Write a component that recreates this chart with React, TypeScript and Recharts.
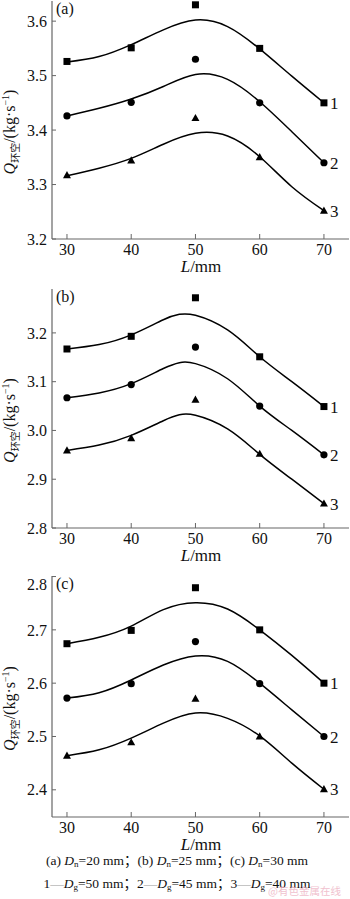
import React from "react";
import { ComposedChart, Line, Scatter, XAxis, YAxis, ReferenceDot } from "recharts";

const SERIF = "'Liberation Serif', 'Times New Roman', serif";
const CJK = "'Noto Sans CJK SC', sans-serif";
const AXIS = "#666";

// shared x values (L, mm)
const xTicks = [30, 40, 50, 60, 70];
const L = [30, 40, 50, 60, 70];
const fitL = [30, 35, 40, 45, 50, 55, 60, 65, 70];
const fitLB = [30, 35, 40, 45, 47.5, 50, 55, 60, 65, 70];
const curveNames = ["1", "2", "3"];

// (a) Dn = 20 mm
const aMeas1 = [3.526, 3.551, 3.63, 3.55, 3.45];
const aMeas2 = [3.426, 3.451, 3.53, 3.45, 3.34];
const aMeas3 = [3.317, 3.344, 3.422, 3.35, 3.252];
const aFit1 = [3.525, 3.535, 3.557, 3.584, 3.602, 3.59, 3.549, 3.499, 3.45];
const aFit2 = [3.426, 3.44, 3.457, 3.48, 3.502, 3.493, 3.452, 3.397, 3.34];
const aFit3 = [3.316, 3.33, 3.348, 3.374, 3.394, 3.389, 3.351, 3.296, 3.252];
const aTicks = [3.2, 3.3, 3.4, 3.5, 3.6];

// (b) Dn = 25 mm
const bMeas1 = [3.167, 3.193, 3.272, 3.151, 3.049];
const bMeas2 = [3.067, 3.094, 3.171, 3.05, 2.95];
const bMeas3 = [2.959, 2.984, 3.063, 2.952, 2.85];
const bFit1 = [3.167, 3.176, 3.196, 3.227, 3.238, 3.236, 3.206, 3.151, 3.1, 3.049];
const bFit2 = [3.067, 3.077, 3.096, 3.127, 3.139, 3.137, 3.106, 3.05, 3.0, 2.95];
const bFit3 = [2.959, 2.97, 2.99, 3.02, 3.032, 3.031, 3.003, 2.951, 2.9, 2.85];
const bTicks = [2.8, 2.9, 3.0, 3.1, 3.2];

// (c) Dn = 30 mm
const cMeas1 = [2.674, 2.699, 2.779, 2.7, 2.6];
const cMeas2 = [2.572, 2.599, 2.678, 2.599, 2.5];
const cMeas3 = [2.464, 2.489, 2.571, 2.5, 2.401];
const cFit1 = [2.674, 2.686, 2.707, 2.738, 2.751, 2.739, 2.7, 2.652, 2.6];
const cFit2 = [2.572, 2.582, 2.606, 2.634, 2.651, 2.641, 2.6, 2.55, 2.5];
const cFit3 = [2.464, 2.475, 2.497, 2.525, 2.544, 2.534, 2.501, 2.45, 2.401];
const cTicks = [2.4, 2.5, 2.6, 2.7, 2.8];

const xDomain: [number, number] = [27.67, 73.9];

const Square = (p: any) => (
  <rect x={p.cx - 3.5} y={p.cy - 3.5} width={7} height={7} fill="#000" />
);
const Dot = (p: any) => <circle cx={p.cx} cy={p.cy} r={3.6} fill="#000" />;
const Tri = (p: any) => (
  <path d={`M${p.cx},${p.cy - 4.2}L${p.cx + 4},${p.cy + 3}L${p.cx - 4},${p.cy + 3}Z`} fill="#000" />
);
const shapes = [Square, Dot, Tri];

type PanelProps = {
  tag: string;
  plotTop: number;
  plotH: number;
  yDomain: [number, number];
  yTicks: number[];
  fitX: number[];
  fits: number[][];
  meas: number[][];
};

function Panel({ tag, plotTop, plotH, yDomain, yTicks, fitX, fits, meas }: PanelProps) {
  const mt = 1;
  const xh = 42;
  const plotBottom = mt + plotH;
  return (
    <div style={{ position: "absolute", left: 0, top: plotTop - mt }}>
      <ComposedChart width={350} height={plotBottom + xh} margin={{ top: mt, right: 1, bottom: 0, left: 0 }}>
        <XAxis
          type="number"
          dataKey="x"
          domain={xDomain}
          ticks={xTicks}
          allowDataOverflow
          height={xh}
          tickSize={-5}
          tickMargin={10}
          axisLine={{ stroke: AXIS, strokeWidth: 1.2 }}
          tickLine={{ stroke: AXIS }}
          tick={{ fill: "#111", fontSize: 16, fontFamily: SERIF }}
          label={{
            content: () => (
              <text x={201} y={plotBottom + 33} textAnchor="middle" fontSize={17} fontFamily={SERIF} fill="#111">
                <tspan fontStyle="italic">L</tspan>/mm
              </text>
            ),
          }}
        />
        <XAxis
          xAxisId="top"
          orientation="top"
          type="number"
          dataKey="x"
          domain={xDomain}
          allowDataOverflow
          height={0}
          tick={false}
          tickLine={false}
          axisLine={{ stroke: AXIS, strokeWidth: 1.2 }}
        />
        <YAxis
          type="number"
          dataKey="y"
          domain={yDomain}
          ticks={yTicks}
          allowDataOverflow
          width={52}
          tickSize={-4}
          tickMargin={9}
          tickFormatter={(v: number) => v.toFixed(1)}
          axisLine={{ stroke: AXIS, strokeWidth: 1.2 }}
          tickLine={{ stroke: AXIS }}
          tick={{ fill: "#111", fontSize: 16, fontFamily: SERIF }}
          label={{
            content: () => (
              <g>
                <text x={56} y={mt + 13} fontSize={16} fontFamily={SERIF} fill="#111">
                  {tag}
                </text>
                <text
                  transform={`translate(15, ${mt + plotH / 2 + 12}) rotate(-90)`}
                  textAnchor="middle"
                  fontSize={16}
                  fontFamily={SERIF}
                  fill="#111"
                >
                  <tspan fontStyle="italic">Q</tspan>
                  <tspan fontSize={10} fontFamily={CJK} dy={4}>环空</tspan>
                  <tspan dy={-4}>/(kg·s</tspan>
                  <tspan fontSize={10} dy={-6}>−1</tspan>
                  <tspan dy={6}>)</tspan>
                </text>
              </g>
            ),
          }}
        />
        <YAxis
          yAxisId="r"
          orientation="right"
          type="number"
          domain={yDomain}
          allowDataOverflow
          width={0}
          tick={false}
          tickLine={false}
          axisLine={{ stroke: AXIS, strokeWidth: 1.2 }}
        />
        {fits.map((f, k) => (
          <Line
            key={"f" + k}
            data={fitX.map((x, i) => ({ x, y: f[i] }))}
            dataKey="y"
            type="natural"
            stroke="#000"
            strokeWidth={1.5}
            dot={false}
            activeDot={false}
            isAnimationActive={false}
          />
        ))}
        {meas.map((m, k) => (
          <Scatter
            key={"m" + k}
            data={L.map((x, i) => ({ x, y: m[i] }))}
            dataKey="y"
            shape={shapes[k]}
            isAnimationActive={false}
          />
        ))}
        {meas.map((m, k) => (
          <ReferenceDot
            key={"l" + k}
            x={L[L.length - 1]}
            y={m[m.length - 1]}
            r={0}
            ifOverflow="visible"
            label={{ value: curveNames[k], position: "right", offset: 6, fill: "#111", fontSize: 17, fontFamily: SERIF }}
          />
        ))}
      </ComposedChart>
    </div>
  );
}

export default function App() {
  const sub = { fontSize: 9, baselineShift: "-20%" } as any;
  return (
    <div style={{ position: "absolute", left: 0, top: 0, width: 350, height: 899, background: "#fff" }}>
      <Panel tag="(a)" plotTop={1} plotH={238} yDomain={[3.2, 3.637]} yTicks={aTicks} fitX={fitL}
        fits={[aFit1, aFit2, aFit3]} meas={[aMeas1, aMeas2, aMeas3]} />
      <Panel tag="(b)" plotTop={289} plotH={239} yDomain={[2.8, 3.29]} yTicks={bTicks} fitX={fitLB}
        fits={[bFit1, bFit2, bFit3]} meas={[bMeas1, bMeas2, bMeas3]} />
      <Panel tag="(c)" plotTop={576} plotH={241} yDomain={[2.349, 2.801]} yTicks={cTicks} fitX={fitL}
        fits={[cFit1, cFit2, cFit3]} meas={[cMeas1, cMeas2, cMeas3]} />
      <svg width={350} height={59} style={{ position: "absolute", left: 0, top: 840 }}>
        <text x={177} y={25} textAnchor="middle" fontSize={13.5} fontFamily={SERIF} fill="#111">
          (a) <tspan fontStyle="italic">D</tspan><tspan style={sub}>n</tspan>=20 mm<tspan fontFamily={CJK}>；</tspan>(b) <tspan fontStyle="italic">D</tspan><tspan style={sub}>n</tspan>=25 mm<tspan fontFamily={CJK}>；</tspan>(c) <tspan fontStyle="italic">D</tspan><tspan style={sub}>n</tspan>=30 mm
        </text>
        <text x={177} y={48} textAnchor="middle" fontSize={13.5} fontFamily={SERIF} fill="#111">
          1<tspan fill="#999">—</tspan><tspan fontStyle="italic">D</tspan><tspan style={sub}>g</tspan>=50 mm<tspan fontFamily={CJK}>；</tspan>2<tspan fill="#999">—</tspan><tspan fontStyle="italic">D</tspan><tspan style={sub}>g</tspan>=45 mm<tspan fontFamily={CJK}>；</tspan>3<tspan fill="#999">—</tspan><tspan fontStyle="italic">D</tspan><tspan style={sub}>g</tspan>=40 mm
        </text>
        <text x={268} y={55} fontSize={10.5} fontFamily={CJK} fill="#eeb3c3" opacity={0.8}>@有色金属在线</text>
      </svg>
    </div>
  );
}
